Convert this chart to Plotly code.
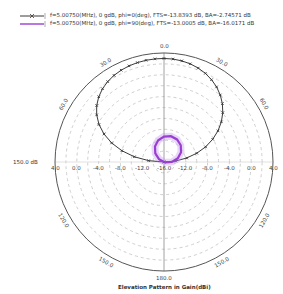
import math
import plotly.graph_objects as go

# ---- data ----
theta_phi0 = [-90, -85, -80, -75, -70, -65, -60, -55, -50, -45, -40, -35, -30, -25, -20, -15, -10, -5,
              0, 5, 10, 15, 20, 25, 30, 35, 40, 45, 50, 55, 60, 65, 70, 75, 80, 85, 90]
gain_phi0 = [-16.0, -13.19, -10.49, -8.00, -5.77, -3.85, -2.23, -0.92, 0.12, 0.93, 1.55, 2.01, 2.35,
             2.59, 2.76, 2.88, 2.95, 2.99, 3.00, 2.96, 2.84, 2.64, 2.34, 1.95, 1.44, 0.82, 0.06,
             -0.85, -1.92, -3.15, -4.56, -6.14, -7.88, -9.77, -11.77, -13.86, -16.0]

theta_phi90 = [-90, -72, -60, -45, -30, -15, 0, 15, 30, 45, 60, 75, 90, 105, 120]
gain_phi90 = [-16.0, -16.0, -14.94, -13.74, -12.69, -11.87, -11.33, -11.10, -11.22,
              -11.65, -12.39, -13.37, -14.53, -15.79, -16.0]

legend_names = [
    "f=5.00750(MHz), 0 gdB, phi=0(deg), FTS=-13.8393 dB, BA=-2.74571 dB",
    "f=5.00750(MHz), 0 gdB, phi=90(deg), FTS=-13.0005 dB, BA=-16.0171 dB",
]
series_colors = ["#3a3a3a", "#9a3fd0"]
radial_labels = ["4.0", "0.0", "-4.0", "-8.0", "-12.0", "-16.0", "-12.0", "-8.0", "-4.0", "0.0", "4.0"]
angle_ticks = [0, 30, 60, 120, 150, 180, 210, 240, 300, 330]
angle_labels = ["0.0", "30.0", "60.0", "120.0", "150.0", "180.0", "150.0", "120.0", "60.0", "30.0"]
r_min, r_max = -16, 4
title_text = "Elevation Pattern in Gain(dBi)"
side_label = "150.0 dB"

# ---- layout geometry ----
W, H = 283, 294
cx, cy, R = 164, 162, 109

fig = go.Figure()

# cross lines
fig.add_trace(go.Scatterpolar(r=[r_max, r_min, r_max], theta=[0, 0, 180], mode="lines",
                              line=dict(color="#8a8a8a", width=0.8), showlegend=False, hoverinfo="skip"))
fig.add_trace(go.Scatterpolar(r=[r_max, r_min, r_max], theta=[90, 90, 270], mode="lines",
                              line=dict(color="#cfcfcf", width=0.6), showlegend=False, hoverinfo="skip"))

fig.add_trace(go.Scatterpolar(r=gain_phi0, theta=theta_phi0, mode="lines+markers",
                              name=legend_names[0],
                              line=dict(color=series_colors[0], width=1.0),
                              marker=dict(symbol="x-thin", size=2.5, color=series_colors[0],
                                          line=dict(color=series_colors[0], width=0.9))))
# halo for purple
fig.add_trace(go.Scatterpolar(r=gain_phi90, theta=theta_phi90, mode="lines",
                              line=dict(color="rgba(190,140,235,0.35)", width=7),
                              showlegend=False, hoverinfo="skip"))
fig.add_trace(go.Scatterpolar(r=gain_phi90, theta=theta_phi90, mode="lines",
                              name=legend_names[1],
                              line=dict(color=series_colors[1], width=2.2)))

dom_x = [(cx - R) / W, (cx + R) / W]
dom_y = [1 - (cy + R) / H, 1 - (cy - R) / H]

fig.update_layout(
    width=W, height=H,
    margin=dict(l=0, r=0, t=0, b=0),
    paper_bgcolor="white",
    font=dict(family="DejaVu Sans", size=6, color="#333"),
    showlegend=False,
    polar=dict(
        domain=dict(x=dom_x, y=dom_y),
        bgcolor="white",
        angularaxis=dict(rotation=90, direction="clockwise", showticklabels=False, ticks="",
                         showgrid=False, linecolor="#555", linewidth=1),
        radialaxis=dict(range=[r_min, r_max], tick0=r_min, dtick=2, showticklabels=False,
                        ticks="", showline=False, gridcolor="#cfcfcf", griddash="dot", gridwidth=0.8),
    ),
)


def pa(px, py, text, size=5.5, color="#444", xanchor="center", textangle=0):
    return dict(x=px / W, y=1 - py / H, xref="paper", yref="paper", text=text, showarrow=False,
                xanchor=xanchor, yanchor="middle", textangle=textangle,
                font=dict(size=size, color=color))


ann = []
shapes = []
# manual legend (compact rows)
for i, (name, col) in enumerate(zip(legend_names, series_colors)):
    py = 16 + i * 8
    yp = 1 - py / H
    shapes.append(dict(type="line", xref="paper", yref="paper", x0=20 / W, x1=44 / W, y0=yp, y1=yp,
                       line=dict(color=col, width=1 if i == 0 else 1.4)))
    shapes.append(dict(type="line", xref="paper", yref="paper", x0=45 / W, x1=45 / W,
                       y0=yp - 3 / H, y1=yp + 3 / H, line=dict(color="#777", width=0.6)))
    if i == 0:
        shapes.append(dict(type="line", xref="paper", yref="paper", x0=30 / W, x1=34 / W,
                           y0=yp - 2 / H, y1=yp + 2 / H, line=dict(color=col, width=0.8)))
        shapes.append(dict(type="line", xref="paper", yref="paper", x0=30 / W, x1=34 / W,
                           y0=yp + 2 / H, y1=yp - 2 / H, line=dict(color=col, width=0.8)))
    ann.append(pa(48, py, name, color="#333", xanchor="left"))

# radial tick labels along horizontal diameter
step = R / 5
for i, lab in enumerate(radial_labels):
    ann.append(pa(cx - R + i * step, cy + 6, lab))
# angular labels
for a, lab in zip(angle_ticks, angle_labels):
    rad = math.radians(a)
    rr = R + 7
    px = cx + rr * math.sin(rad)
    py = cy - rr * math.cos(rad)
    if 90 < a < 270:
        ta = a - 180
    elif a >= 270:
        ta = a - 360
    else:
        ta = a
    ann.append(pa(px, py, lab, textangle=ta))
ann.append(pa(cx, 286.5, "<b>" + title_text + "</b>", color="#333"))
ann.append(pa(25, cy, side_label, color="#333"))
fig.update_layout(annotations=ann, shapes=shapes)

fig.write_html("out.html", post_script="document.body.style.margin='0';",
               config={"displayModeBar": False})
